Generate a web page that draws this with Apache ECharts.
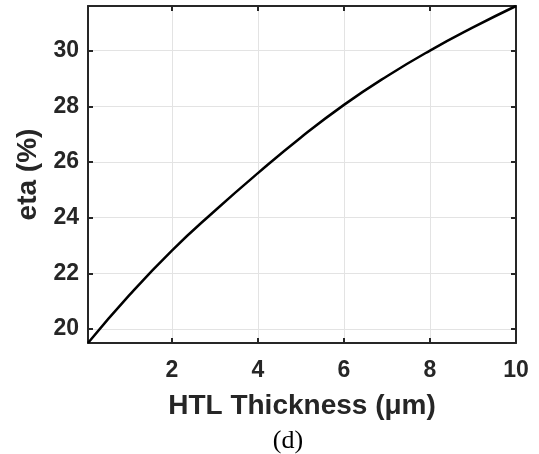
<!DOCTYPE html>
<html><head><meta charset="utf-8">
<script src="https://cdn.jsdelivr.net/npm/echarts@6/dist/echarts.min.js"></script>
<style>html,body{margin:0;padding:0;background:#fff}#c{width:539px;height:454px}</style>
</head><body><div id="c"></div>
<script>
const thickness = [0.05, 1, 2, 3, 4, 5, 6, 7, 8, 9, 10];
const eta = [19.5, 21.2, 22.82, 24.25, 25.6, 26.88, 28.05, 29.08, 30.0, 30.83, 31.6];
const xTicks = [2, 4, 6, 8, 10];
const yTicks = [20, 22, 24, 26, 28, 30];
const xRange = [0.05, 10];
const yRange = [19.5, 31.6];

const axisColor = '#262626';
const sans = 'Liberation Sans, Arial, sans-serif';
const labelFont = {fontFamily: sans, fontWeight: 'bold', fontSize: 23, color: axisColor};
const titleFont = {fontFamily: sans, fontWeight: 'bold', fontSize: 28, color: axisColor};
const chart = echarts.init(document.getElementById('c'));
chart.setOption({
  animation: false,
  grid: {left: 88, right: 23, top: 6, bottom: 111, containLabel: false},
  xAxis: [{
    type: 'value', min: xRange[0], max: xRange[1], position: 'bottom',
    axisLine: {show: true, onZero: false, lineStyle: {color: axisColor, width: 2}},
    axisTick: {show: true, inside: true, length: 5, customValues: xTicks, lineStyle: {color: axisColor, width: 2}},
    axisLabel: Object.assign({customValues: xTicks, margin: 16}, labelFont),
    splitLine: {show: true, lineStyle: {color: '#e3e3e3', width: 1}},
    name: 'HTL Thickness (μm)', nameLocation: 'middle', nameGap: 49,
    nameTextStyle: titleFont
  }, {
    type: 'value', min: xRange[0], max: xRange[1], position: 'top',
    axisLine: {show: true, onZero: false, lineStyle: {color: axisColor, width: 2}},
    axisTick: {show: true, inside: true, length: 5, customValues: xTicks, lineStyle: {color: axisColor, width: 2}},
    axisLabel: {show: false, customValues: xTicks}, splitLine: {show: false}
  }],
  yAxis: [{
    type: 'value', min: yRange[0], max: yRange[1], position: 'left',
    axisLine: {show: true, onZero: false, lineStyle: {color: axisColor, width: 2}},
    axisTick: {show: true, inside: true, length: 5, customValues: yTicks, lineStyle: {color: axisColor, width: 2}},
    axisLabel: Object.assign({customValues: yTicks, margin: 9}, labelFont),
    splitLine: {show: true, lineStyle: {color: '#e3e3e3', width: 1}},
    name: 'eta (%)', nameLocation: 'middle', nameGap: 44,
    nameTextStyle: titleFont
  }, {
    type: 'value', min: yRange[0], max: yRange[1], position: 'right',
    axisLine: {show: true, onZero: false, lineStyle: {color: axisColor, width: 2}},
    axisTick: {show: true, inside: true, length: 5, customValues: yTicks, lineStyle: {color: axisColor, width: 2}},
    axisLabel: {show: false, customValues: yTicks}, splitLine: {show: false}
  }],
  graphic: [{
    type: 'text', x: 288, y: 441,
    style: {text: '(d)', align: 'center', verticalAlign: 'middle', fill: '#000', font: '26px "Liberation Serif", "Times New Roman", serif'}
  }],
  series: [{
    type: 'line', xAxisIndex: 0, yAxisIndex: 0, smooth: 0.5, symbol: 'none',
    lineStyle: {color: '#000', width: 2.5},
    data: thickness.map((t, i) => [t, eta[i]])
  }]
});
</script></body></html>
